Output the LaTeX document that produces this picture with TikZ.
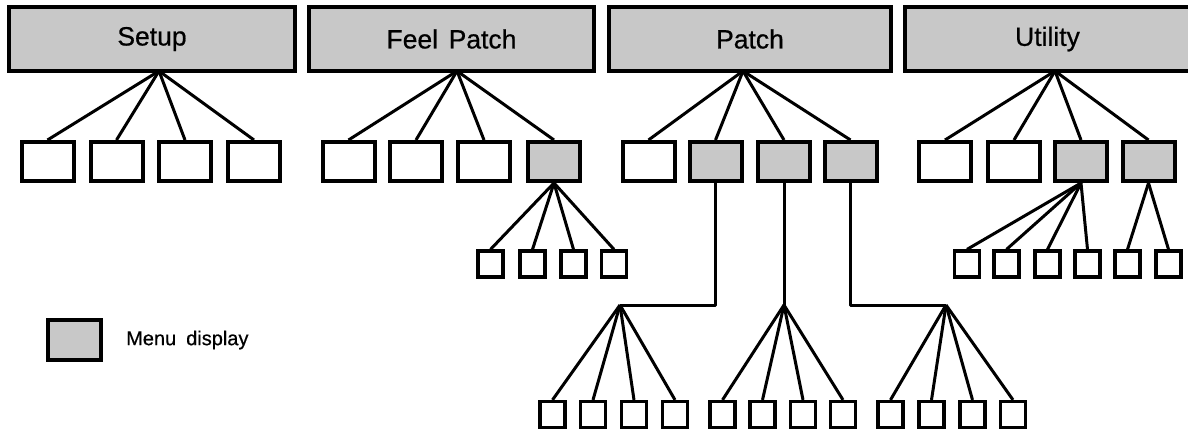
\documentclass[tikz,border=0pt]{standalone}
\usepackage{fontspec}
\setmainfont{Liberation Sans}[FakeBold=0.6]
\definecolor{stip}{RGB}{200,200,200}
\begin{document}
\begin{tikzpicture}[x=1pt,y=-1pt,
  box/.style={draw,line width=4pt,inner sep=0pt},
  tbox/.style={box,fill=stip,minimum width=#1,minimum height=64pt,font=\fontsize{26.5}{30}\selectfont},
  midbox/.style={box,minimum width=52pt,minimum height=39pt},
  midg/.style={midbox,fill=stip},
  smbox/.style={box,line width=3.4pt,minimum width=25.2pt,minimum height=25.8pt},
  con/.style={line width=3pt,line join=round}]
\clip (0,0) rectangle (1188,431);
\fill[white] (0,0) rectangle (1188,431);
% top boxes
\node[tbox=286pt] (setup) at (152,39) {Setup};
\node[tbox=285pt] (feel) at (451.5,39) {Feel\hspace{0.4em}Patch};
\node[tbox=282pt] (patch) at (750,39) {Patch};
\node[tbox=285pt] (util) at (1047.5,39) {Utility};
\coordinate (hs) at (159,71);
\coordinate (hf) at (457,71);
\coordinate (hp) at (743,71);
\coordinate (hu) at (1055,71);
% second row
\foreach \x [count=\i] in {47.5,116.5,185,254}
  \node[midbox,name=s\i] at (\x,161.5) {};
\foreach \x [count=\i] in {348.5,416,484}
  \node[midbox,name=f\i] at (\x,161.5) {};
\node[midg] (f4) at (554,161.5) {};
\node[midbox] (p1) at (648.5,161.5) {};
\foreach \x [count=\i from 2] in {715.5,784,850.5}
  \node[midg,name=p\i] at (\x,161.5) {};
\foreach \x [count=\i] in {945,1014}
  \node[midbox,name=u\i] at (\x,161.5) {};
\foreach \x [count=\i from 3] in {1081,1148.5}
  \node[midg,name=u\i] at (\x,161.5) {};
\foreach \i in {1,...,4}{
  \draw[con] (hs) -- (s\i.north);
  \draw[con] (hf) -- (f\i.north);
  \draw[con] (hp) -- (p\i.north);
  \draw[con] (hu) -- (u\i.north);
}
% feel patch sub
\foreach \x [count=\i] in {490.5,532.5,573.5,614}{
  \node[smbox,name=fs\i] at (\x,264) {};
  \draw[con] (f4.south) -- (fs\i.north);
}
% utility sub
\foreach \x [count=\i] in {967,1006.5,1047.5,1087.5}{
  \node[smbox,name=ua\i] at (\x,264) {};
  \draw[con] (u3.south) -- (ua\i.north);
}
\foreach \x [count=\i] in {1127.5,1168.5}{
  \node[smbox,name=ub\i] at (\x,264) {};
  \draw[con] (u4.south) -- (ub\i.north);
}
% patch sub
\coordinate (g1) at (620,305);
\coordinate (g2) at (784,305);
\coordinate (g3) at (946,305);
\draw[con] (p2.south) |- (g1);
\draw[con] (p3.south) -- (g2);
\draw[con] (p4.south) |- (g3);
\foreach \x [count=\i] in {552.5,593,634,675}{
  \node[smbox,name=ga\i] at (\x,414.5) {};
  \draw[con] (g1) -- (ga\i.north);
}
\foreach \x [count=\i] in {722.5,762.5,803,843}{
  \node[smbox,name=gb\i] at (\x,414.5) {};
  \draw[con] (g2) -- (gb\i.north);
}
\foreach \x [count=\i] in {890.5,931.5,972.5,1013}{
  \node[smbox,name=gc\i] at (\x,414.5) {};
  \draw[con] (g3) -- (gc\i.north);
}
% legend
\node[box,fill=stip,minimum width=53pt,minimum height=40pt] (leg) at (74.5,340) {};
\node[anchor=west,inner sep=0pt,font=\fontsize{20}{23}\selectfont] (legt) at (126,340) {Menu\hspace{0.5em}display};
\end{tikzpicture}
\end{document}
